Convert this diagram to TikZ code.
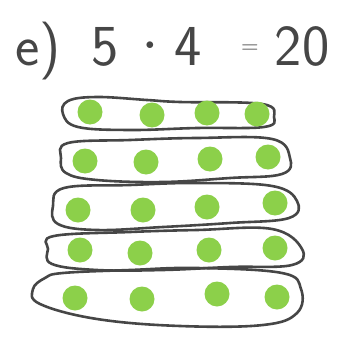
\documentclass[tikz,border=0pt]{standalone}
\usepackage{amsmath}
\usetikzlibrary{positioning}

\definecolor{pencil}{RGB}{70,70,70}
\definecolor{dotgreen}{RGB}{140,208,74}

\begin{document}
\begin{tikzpicture}[x=1pt, y=-1pt]
    \tikzset{
        loopstyle/.style={pencil, line width=2.6pt, line join=round},
        dotstyle/.style={circle, fill=dotgreen, inner sep=0pt, minimum size=25pt},
        handstyle/.style={pencil, font=\sffamily\fontsize{58}{60}\selectfont, inner sep=0pt, anchor=base}
    }
    \useasboundingbox (0,0) rectangle (342,337);

    % Aufgabe
    \node[handstyle] (lbl) at (38,65) {e)};
    \node[handstyle] (five) at (105,65) {5};
    \node[handstyle, font=\fontsize{16}{18}\selectfont, anchor=center] (mul) at (150,46) {$\bullet$};
    \node[handstyle] (four) at (188,65) {4};
    \node[handstyle, font=\sffamily\fontsize{24}{26}\selectfont] (eq) at (250,53) {=};
    \node[handstyle] (res) at (302,65) {20};

    % Schlingen
    \draw[loopstyle] plot[smooth cycle, tension=0.65] coordinates {
        (63,114) (68,101) (97,97) (147,100) (180,102) (262,104) (274,117)
        (264,127) (197,128) (130,130) (78,127)};
    \draw[loopstyle] plot[smooth cycle, tension=0.65] coordinates {
        (61,158) (68,143) (130,140) (197,138) (272,139) (290,158) (282,174)
        (230,178) (163,182) (97,180) (66,173)};
    \draw[loopstyle] plot[smooth cycle, tension=0.65] coordinates {
        (53,206) (64,188) (130,185) (197,183) (272,186) (297,201) (289,218)
        (230,223) (163,227) (97,230) (58,224)};
    \draw[loopstyle] plot[smooth cycle, tension=0.65] coordinates {
        (48,249) (54,236) (130,232) (197,230) (272,229) (302,249) (292,265)
        (230,267) (163,270) (97,270) (52,264)};
    \draw[loopstyle] plot[smooth cycle, tension=0.65] coordinates {
        (33,289) (45,278) (63,273) (130,270) (197,268) (282,273) (301,289)
        (297,313) (263,325) (180,326) (97,319) (40,304)};

    % Punkte
    \foreach \x/\y [count=\i] in {90/112, 152/115, 207/113, 257/114}
        \node[dotstyle] (a\i) at (\x,\y) {};
    \foreach \x/\y [count=\i] in {85/161, 146/162, 210/159, 268/157}
        \node[dotstyle] (b\i) at (\x,\y) {};
    \foreach \x/\y [count=\i] in {78/210, 143/210, 207/207, 275/203}
        \node[dotstyle] (c\i) at (\x,\y) {};
    \foreach \x/\y [count=\i] in {80/250, 140/253, 209/250, 275/248}
        \node[dotstyle] (d\i) at (\x,\y) {};
    \foreach \x/\y [count=\i] in {75/298, 142/299, 217/294, 277/297}
        \node[dotstyle] (e\i) at (\x,\y) {};

\end{tikzpicture}
\end{document}
